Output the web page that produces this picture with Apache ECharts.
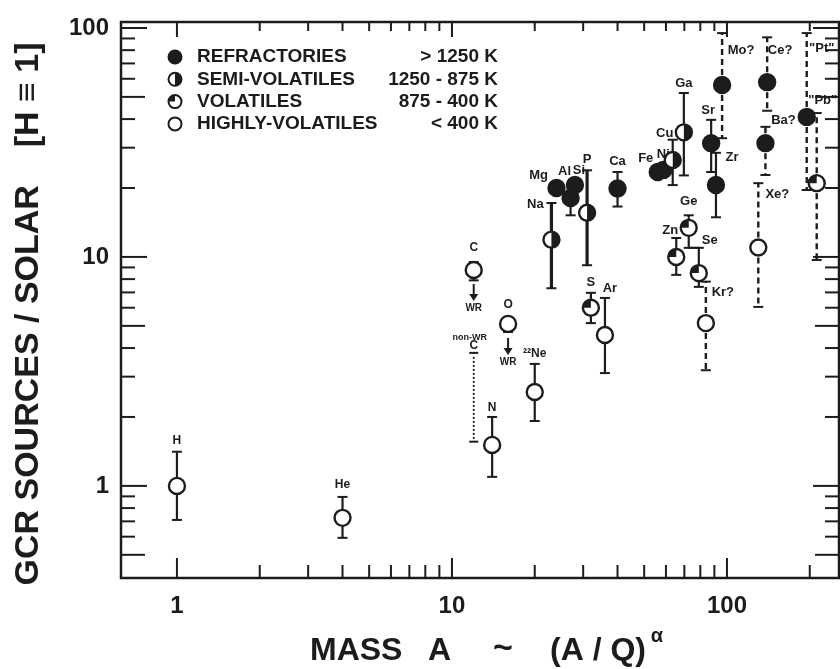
<!DOCTYPE html>
<html><head><meta charset="utf-8">
<script src="https://cdn.jsdelivr.net/npm/echarts@6/dist/echarts.min.js"></script>
<style>html,body{margin:0;padding:0;background:#fff}#c{width:840px;height:669px}</style>
</head><body><div id="c"></div>
<script>
// ---------------- data ----------------
const elements = ['H','He','C','O','N','²²Ne','Na','Mg','Al','Si','P','S','Ar','Ca','Fe','Ni','Cu','Zn','Ga','Ge','Se','Kr?','Sr','Zr','Mo?','Xe?','Ba?','Ce?','"Pt"','"Pb"'];
const massA = [1,4,12,16,14,20,23,24,27,28,31,32,36,40,56,58.7,63.5,65.4,69.7,72.6,79,83.8,87.6,91.2,96,130,138,140,195,212];
const ratio = [1.0,0.725,8.77,5.1,1.51,2.57,11.9,20.0,18.1,20.6,15.6,6.0,4.56,19.9,23.5,24.0,26.5,10.0,35.0,13.4,8.5,5.14,31.4,20.6,56.4,11.0,31.4,58.0,40.9,21.0];
const ratioLow = [0.71,0.593,7.9,4.7,1.095,1.92,7.3,null,15.2,null,9.2,5.14,3.11,16.6,null,null,20.6,8.35,22.7,10.96,7.4,3.2,23.5,14.9,33,6.05,22.8,43.5,19.6,9.7];
const ratioHigh = [1.41,0.895,9.5,5.47,2.0,3.41,17.2,null,null,null,23.9,6.97,6.62,23.5,null,null,32.5,12.1,52,15.2,10.96,7.8,39.7,28.5,95,21.0,37,91,95,42.5];
// 0 refractory, 1 semi-volatile, 2 volatile, 3 highly-volatile
const volatility = [3,3,3,3,3,3,1,0,0,0,1,2,3,0,0,0,1,2,1,2,2,3,0,0,0,3,0,0,0,2];

const nonWrMass = [12];
const nonWrLow = [1.56];
const nonWrHigh = [3.66];
const nonWrText = ['non-WR', 'C'];
const wrText = 'WR';

const legendNames = ['REFRACTORIES','SEMI-VOLATILES','VOLATILES','HIGHLY-VOLATILES'];
const legendRanges = ['> 1250 K','1250 - 875 K','875 - 400 K','< 400 K'];

const xMajorTicks = [1,10,100];
const xMinorTicks = [2,3,4,5,6,7,8,9,20,30,40,50,60,70,80,90,200];
const yMajorTicks = [1,10,100];
const yMidTicks = [0.5,5,50];
const yMinorTicks = [0.6,0.7,0.8,0.9,2,3,4,6,7,8,9,20,30,40,60,70,80,90];
const xTickLabels = ['1','10','100'];
const yTickLabels = ['1','10','100'];

const xTitleParts = ['MASS', 'A', '~', '(A / Q)', 'α'];
const yTitle = 'GCR SOURCES / SOLAR    [H ≡ 1]';

// ---------------- styles ----------------
const INK = '#1c1c1c';
const FONT = '"Liberation Sans", Arial, Helvetica, sans-serif';
const X_MIN = 0.626, X_MAX = 255.5, Y_MIN = 0.396, Y_MAX = 106.2;
const dashedBars = new Set(['Kr?','Mo?','Xe?','Ba?','Ce?','"Pt"','"Pb"']);
const thickBars = new Set(['Na','P']);
const wrArrows = new Set(['C','O']);
const smallLabels = new Set(['H','He','C','O','N','²²Ne']);
const labelOffset = {
  'H':[0,-45],'He':[0,-33],'C':[0,-22],'O':[0,-19],'N':[0,-37],'²²Ne':[0,-38],
  'Na':[-16,-35],'Mg':[-18,-13],'Al':[-6,-27],'Si':[4,-15],'P':[0,-53],'S':[0,-25],
  'Ar':[5,-47],'Ca':[0,-27],'Fe':[-12,-14],'Ni':[0,-15],'Cu':[-8,-27],'Zn':[-6,-27],
  'Ga':[0,-49],'Ge':[0,-26],'Se':[11,-33],'Kr?':[17,-31],'Sr':[-3,-33],'Zr':[16,-28],
  'Mo?':[19,-35],'Xe?':[19,-53],'Ba?':[18,-23],'Ce?':[13,-32],'"Pt"':[15,-68],'"Pb"':[6,-83]
};

function txt(text, x, y, size, align, vAlign, weight) {
  return {text, x, y, fill: INK, font: `${weight || 'bold'} ${size}px ${FONT}`,
    align: align || 'center', textAlign: align || 'center',
    verticalAlign: vAlign || 'middle', textVerticalAlign: vAlign || 'middle'};
}

function markerShapes(cx, cy, r, cls, lw) {
  const out = [{type:'circle', shape:{cx, cy, r}, style:{fill: cls === 0 ? INK : '#fff', stroke: INK, lineWidth: lw}}];
  if (cls === 1) out.push({type:'sector', shape:{cx, cy, r0:0, r, startAngle:-Math.PI/2, endAngle:Math.PI/2, clockwise:true}, style:{fill:INK}});
  if (cls === 2) out.push({type:'sector', shape:{cx, cy, r0:0, r, startAngle:Math.PI, endAngle:Math.PI*1.5, clockwise:true}, style:{fill:INK}});
  return out;
}
function hline(x, y, w, lw) {
  return {type:'line', shape:{x1:x-w/2, y1:y, x2:x+w/2, y2:y}, style:{stroke:INK, lineWidth:lw}};
}

function renderPoint(params, api) {
  const i = params.dataIndex;
  const name = elements[i];
  const p = api.coord([massA[i], ratio[i]]);
  const px = p[0], py = p[1];
  const dashed = dashedBars.has(name);
  const lw = thickBars.has(name) ? 3.2 : 2.2;
  const kids = [];
  [ratioLow[i], ratioHigh[i]].forEach(v => {
    if (v == null) return;
    const ey = api.coord([massA[i], v])[1];
    const st = {stroke: INK, lineWidth: dashed ? 2.4 : lw};
    if (dashed) st.lineDash = [6, 4];
    kids.push({type:'line', shape:{x1:px, y1:py, x2:px, y2:ey}, style:st});
    kids.push(hline(px, ey, 10, 2));
  });
  if (wrArrows.has(name)) {
    kids.push({type:'line', shape:{x1:px, y1:py+14, x2:px, y2:py+26}, style:{stroke:INK, lineWidth:2}});
    kids.push({type:'polygon', shape:{points:[[px-4.5, py+24],[px+4.5, py+24],[px, py+31]]}, style:{fill:INK}});
    kids.push({type:'text', style: txt(wrText, px, py+38, 10)});
  }
  kids.push(...markerShapes(px, py, 8, volatility[i], 2.4));
  const off = labelOffset[name] || [0, -20];
  kids.push({type:'text', style: txt(name, px+off[0], py+off[1], smallLabels.has(name) ? 12 : 13)});
  return {type:'group', children:kids};
}

function renderNonWr(params, api) {
  const i = params.dataIndex;
  const top = api.coord([nonWrMass[i], nonWrHigh[i]]);
  const bot = api.coord([nonWrMass[i], nonWrLow[i]]);
  return {type:'group', children:[
    {type:'line', shape:{x1:top[0], y1:top[1], x2:bot[0], y2:bot[1]}, style:{stroke:INK, lineWidth:1.8, lineDash:[2,2]}},
    hline(top[0], top[1]-4, 9, 2),
    hline(bot[0], bot[1], 9, 2),
    {type:'text', style: txt(nonWrText[0], top[0]-4, top[1]-19, 9)},
    {type:'text', style: txt(nonWrText[1], top[0], top[1]-11, 12)}
  ]};
}

function renderXTick(len, lenTop) {
  return function (params, api) {
    const cs = params.coordSys;
    const x = api.coord([api.value(0), 1])[0];
    const b = cs.y + cs.height, t = cs.y;
    return {type:'group', children:[
      {type:'line', shape:{x1:x, y1:b, x2:x, y2:b-len}, style:{stroke:INK, lineWidth:2}},
      {type:'line', shape:{x1:x, y1:t, x2:x, y2:t+lenTop}, style:{stroke:INK, lineWidth:2}}
    ]};
  };
}
function renderYTick(len) {
  return function (params, api) {
    const cs = params.coordSys;
    const y = api.coord([1, api.value(1)])[1];
    const l = cs.x, r = cs.x + cs.width;
    return {type:'group', children:[
      {type:'line', shape:{x1:l, y1:y, x2:l+len, y2:y}, style:{stroke:INK, lineWidth:2}},
      {type:'line', shape:{x1:r, y1:y, x2:r-len, y2:y}, style:{stroke:INK, lineWidth:2}}
    ]};
  };
}

function labelFilter(list) {
  return function (v) {
    const hit = list.find(s => Math.abs(Number(s) - v) / Number(s) < 1e-6);
    return hit || '';
  };
}

const geIdx = elements.indexOf('Ge'), seIdx = elements.indexOf('Se');

const legendGraphic = legendNames.map((n, k) => {
  const cy = 57 + k * 22.3;
  return {type:'group', children:[
    ...markerShapes(175, cy, 6.5, k, 2),
    {type:'text', style: txt(n, 197, cy, 19, 'left')},
    {type:'text', style: txt(legendRanges[k], 498, cy, 19, 'right')}
  ]};
});

const chart = echarts.init(document.getElementById('c'));
chart.setOption({
  backgroundColor: '#fff',
  animation: false,
  grid: {left:121, right:1, top:22, bottom:91, show:true, borderColor:INK, borderWidth:2.5, backgroundColor:'transparent', outerBoundsMode:'none'},
  xAxis: {type:'log', logBase:10, min:X_MIN, max:X_MAX,
    axisLine:{show:false}, axisTick:{show:false}, splitLine:{show:false},
    axisLabel:{formatter: labelFilter(xTickLabels), color:INK, fontSize:24, fontWeight:'bold', fontFamily:FONT, margin:16, showMinLabel:false, showMaxLabel:false}},
  yAxis: {type:'log', logBase:10, min:Y_MIN, max:Y_MAX,
    axisLine:{show:false}, axisTick:{show:false}, splitLine:{show:false},
    axisLabel:{formatter: labelFilter(yTickLabels), color:INK, fontSize:24, fontWeight:'bold', fontFamily:FONT, margin:12, showMinLabel:false, showMaxLabel:true}},
  graphic: [
    ...legendGraphic,
    {type:'text', style: txt(xTitleParts[0], 310, 651, 32, 'left')},
    {type:'text', style: txt(xTitleParts[1], 428, 651, 32, 'left')},
    {type:'text', style: txt(xTitleParts[2], 503, 649, 34, 'center')},
    {type:'text', style: txt(xTitleParts[3], 550, 651, 32, 'left')},
    {type:'text', style: txt(xTitleParts[4], 657, 636, 20, 'center')},
    {type:'text', x:29, y:314, rotation:Math.PI/2, style: txt(yTitle, 0, 0, 34, 'center')}
  ],
  series: [
    {type:'custom', name:'xMajor', data: xMajorTicks.map(v => [v, 1]), renderItem: renderXTick(20, 15), silent:true, z:3},
    {type:'custom', name:'xMinor', data: xMinorTicks.map(v => [v, 1]), renderItem: renderXTick(13, 9), silent:true, z:3},
    {type:'custom', name:'yMajor', data: yMajorTicks.map(v => [1, v]), renderItem: renderYTick(26), silent:true, z:3},
    {type:'custom', name:'yMid', data: yMidTicks.map(v => [1, v]), renderItem: renderYTick(24), silent:true, z:3},
    {type:'custom', name:'yMinor', data: yMinorTicks.map(v => [1, v]), renderItem: renderYTick(14), silent:true, z:3},
    {type:'line', name:'bracket', data: [[massA[geIdx], ratioLow[geIdx]], [massA[seIdx], ratioHigh[seIdx]]], symbol:'none', lineStyle:{color:INK, width:2}, silent:true, z:4},
    {type:'custom', name:'nonWR', data: nonWrMass.map((m, i) => [m, nonWrHigh[i]]), renderItem: renderNonWr, silent:true, z:5},
    {type:'custom', name:'points', data: massA.map((m, i) => [m, ratio[i]]), renderItem: renderPoint, silent:true, z:6}
  ]
});
</script></body></html>
